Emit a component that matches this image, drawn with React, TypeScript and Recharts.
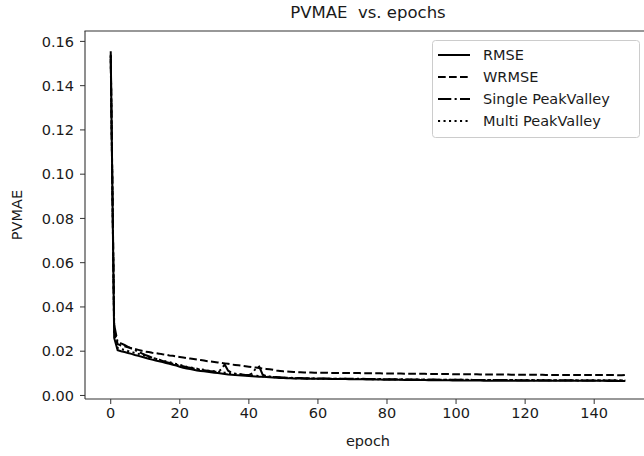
import React from 'react';
import { LineChart, Line, XAxis, YAxis } from 'recharts';

const rmse = [
  0.1555,
  0.026, 0.0205, 0.0200, 0.0196, 0.0192, 0.0188, 0.0183, 0.0179, 0.0175, 0.0170,
  0.0166, 0.0162, 0.0158, 0.0155, 0.0151, 0.0147, 0.0143, 0.0139, 0.0135, 0.0130,
  0.0125, 0.0122, 0.0119, 0.0116, 0.0113, 0.0111, 0.0109, 0.0107, 0.0105, 0.0103,
  0.0101, 0.0099, 0.0097, 0.0095, 0.0094, 0.0092, 0.0091, 0.0090, 0.0089, 0.0088,
  0.0087, 0.0086, 0.0085, 0.0084, 0.0083, 0.0082, 0.0081, 0.0080, 0.0079, 0.0079,
  0.0078, 0.0078, 0.0077, 0.0077, 0.0077, 0.0076, 0.0076, 0.0076, 0.0076, 0.0075,
  0.0075, 0.0075, 0.0075, 0.0074, 0.0074, 0.0074, 0.0074, 0.0074, 0.0073, 0.0073,
  0.0073, 0.0073, 0.0073, 0.0072, 0.0072, 0.0072, 0.0072, 0.0072, 0.0071, 0.0071,
  0.0071, 0.0071, 0.0071, 0.0071, 0.0070, 0.0070, 0.0070, 0.0070, 0.0070, 0.0070,
  0.0070, 0.0069, 0.0069, 0.0069, 0.0069, 0.0069, 0.0069, 0.0069, 0.0068, 0.0068,
  0.0068, 0.0068, 0.0068, 0.0068, 0.0068, 0.0068, 0.0068, 0.0067, 0.0067, 0.0067,
  0.0067, 0.0067, 0.0067, 0.0067, 0.0067, 0.0067, 0.0067, 0.0067, 0.0067, 0.0067,
  0.0067, 0.0067, 0.0067, 0.0066, 0.0066, 0.0066, 0.0066, 0.0066, 0.0066, 0.0066,
  0.0066, 0.0066, 0.0066, 0.0066, 0.0066, 0.0066, 0.0066, 0.0066, 0.0066, 0.0066,
  0.0066, 0.0066, 0.0066, 0.0065, 0.0066, 0.0065, 0.0065, 0.0065, 0.0065,
];

const wrmse = [
  0.1540,
  0.030, 0.0232, 0.0226, 0.0222, 0.0218, 0.0214, 0.0210, 0.0206, 0.0202, 0.0198,
  0.0196, 0.0193, 0.0191, 0.0189, 0.0186, 0.0184, 0.0181, 0.0179, 0.0176, 0.0174,
  0.0172, 0.0169, 0.0167, 0.0165, 0.0162, 0.0160, 0.0158, 0.0155, 0.0153, 0.0151,
  0.0149, 0.0147, 0.0145, 0.0143, 0.0140, 0.0138, 0.0136, 0.0134, 0.0132, 0.0130,
  0.0128, 0.0126, 0.0124, 0.0122, 0.0120, 0.0118, 0.0116, 0.0113, 0.0111, 0.0109,
  0.0108, 0.0107, 0.0106, 0.0105, 0.0105, 0.0104, 0.0104, 0.0104, 0.0103, 0.0103,
  0.0103, 0.0103, 0.0102, 0.0102, 0.0102, 0.0102, 0.0102, 0.0101, 0.0101, 0.0101,
  0.0101, 0.0101, 0.0100, 0.0100, 0.0100, 0.0100, 0.0100, 0.0100, 0.0099, 0.0099,
  0.0099, 0.0099, 0.0099, 0.0099, 0.0098, 0.0098, 0.0098, 0.0098, 0.0098, 0.0098,
  0.0098, 0.0097, 0.0097, 0.0097, 0.0097, 0.0097, 0.0097, 0.0097, 0.0096, 0.0096,
  0.0096, 0.0096, 0.0096, 0.0096, 0.0096, 0.0096, 0.0095, 0.0095, 0.0095, 0.0095,
  0.0095, 0.0095, 0.0095, 0.0095, 0.0095, 0.0094, 0.0094, 0.0094, 0.0094, 0.0094,
  0.0094, 0.0094, 0.0094, 0.0094, 0.0094, 0.0093, 0.0093, 0.0093, 0.0093, 0.0093,
  0.0093, 0.0093, 0.0093, 0.0093, 0.0093, 0.0093, 0.0092, 0.0092, 0.0092, 0.0092,
  0.0092, 0.0092, 0.0092, 0.0092, 0.0092, 0.0092, 0.0091, 0.0091, 0.0093,
];

const singlePV = [
  0.1520,
  0.032, 0.0240, 0.0235, 0.0228, 0.0220, 0.0212, 0.0205, 0.0198, 0.0190, 0.0183,
  0.0177, 0.0171, 0.0166, 0.0161, 0.0156, 0.0151, 0.0147, 0.0143, 0.0139, 0.0135,
  0.0132, 0.0128, 0.0125, 0.0122, 0.0119, 0.0116, 0.0114, 0.0112, 0.0110, 0.0108,
  0.0107, 0.0118, 0.0140, 0.0112, 0.0102, 0.0099, 0.0097, 0.0095, 0.0093, 0.0092,
  0.0100, 0.0122, 0.0130, 0.0094, 0.0088, 0.0086, 0.0084, 0.0083, 0.0082, 0.0081,
  0.0080, 0.0080, 0.0079, 0.0079, 0.0079, 0.0078, 0.0078, 0.0078, 0.0077, 0.0077,
  0.0077, 0.0077, 0.0076, 0.0076, 0.0076, 0.0076, 0.0076, 0.0075, 0.0075, 0.0075,
  0.0075, 0.0075, 0.0075, 0.0074, 0.0074, 0.0074, 0.0074, 0.0074, 0.0074, 0.0073,
  0.0073, 0.0073, 0.0073, 0.0073, 0.0073, 0.0073, 0.0072, 0.0072, 0.0072, 0.0072,
  0.0072, 0.0072, 0.0072, 0.0072, 0.0071, 0.0071, 0.0071, 0.0071, 0.0071, 0.0071,
  0.0071, 0.0071, 0.0071, 0.0070, 0.0070, 0.0070, 0.0070, 0.0070, 0.0070, 0.0070,
  0.0070, 0.0070, 0.0070, 0.0070, 0.0070, 0.0070, 0.0069, 0.0069, 0.0069, 0.0069,
  0.0069, 0.0069, 0.0069, 0.0069, 0.0069, 0.0069, 0.0069, 0.0069, 0.0069, 0.0069,
  0.0069, 0.0069, 0.0069, 0.0069, 0.0068, 0.0068, 0.0068, 0.0068, 0.0068, 0.0068,
  0.0068, 0.0068, 0.0068, 0.0068, 0.0068, 0.0068, 0.0068, 0.0068, 0.0068,
];

const multiPV = [
  0.1535,
  0.028, 0.0215, 0.0210, 0.0206, 0.0201, 0.0197, 0.0192, 0.0188, 0.0183, 0.0179,
  0.0174, 0.0170, 0.0166, 0.0162, 0.0158, 0.0154, 0.0150, 0.0146, 0.0142, 0.0138,
  0.0134, 0.0130, 0.0127, 0.0124, 0.0121, 0.0118, 0.0116, 0.0113, 0.0111, 0.0109,
  0.0107, 0.0105, 0.0103, 0.0101, 0.0099, 0.0097, 0.0096, 0.0094, 0.0093, 0.0091,
  0.0090, 0.0089, 0.0088, 0.0086, 0.0085, 0.0084, 0.0083, 0.0082, 0.0081, 0.0080,
  0.0079, 0.0079, 0.0078, 0.0078, 0.0078, 0.0077, 0.0077, 0.0077, 0.0077, 0.0076,
  0.0076, 0.0076, 0.0076, 0.0076, 0.0075, 0.0075, 0.0075, 0.0075, 0.0075, 0.0074,
  0.0074, 0.0074, 0.0074, 0.0074, 0.0074, 0.0073, 0.0073, 0.0073, 0.0073, 0.0073,
  0.0073, 0.0073, 0.0072, 0.0072, 0.0072, 0.0072, 0.0072, 0.0072, 0.0072, 0.0072,
  0.0071, 0.0071, 0.0071, 0.0071, 0.0071, 0.0071, 0.0071, 0.0071, 0.0071, 0.0071,
  0.0071, 0.0071, 0.0071, 0.0071, 0.0070, 0.0070, 0.0070, 0.0070, 0.0070, 0.0070,
  0.0070, 0.0070, 0.0070, 0.0070, 0.0070, 0.0070, 0.0070, 0.0070, 0.0070, 0.0070,
  0.0070, 0.0070, 0.0070, 0.0070, 0.0070, 0.0069, 0.0069, 0.0069, 0.0069, 0.0069,
  0.0069, 0.0069, 0.0069, 0.0069, 0.0069, 0.0069, 0.0069, 0.0069, 0.0069, 0.0069,
  0.0069, 0.0069, 0.0069, 0.0069, 0.0069, 0.0069, 0.0069, 0.0069, 0.0069,
];

const xTicks = [0, 20, 40, 60, 80, 100, 120, 140];
const yTicks = [0, 0.02, 0.04, 0.06, 0.08, 0.1, 0.12, 0.14, 0.16];
const xDomain = [-7.45, 156.45];
const yDomain = [-0.0016, 0.1647];

const seriesKeys = ['rmse', 'wrmse', 'single', 'multi'];
const seriesNames = ['RMSE', 'WRMSE', 'Single PeakValley', 'Multi PeakValley'];
const seriesDash = ['', '7.7 3.3', '13.3 3.3 2.1 3.3', '2.1 3.4'];

const data = rmse.map((v, i) => ({
  epoch: i,
  rmse: v,
  wrmse: wrmse[i],
  single: singlePV[i],
  multi: multiPV[i],
}));

const FONT = '"DejaVu Sans", sans-serif';
const TXT = '#1a1a1a';

export default function App() {
  return (
    <div
      style={{
        position: 'fixed',
        left: 0,
        top: 0,
        width: 644,
        height: 456,
        overflow: 'hidden',
        background: '#fff',
        fontFamily: FONT,
      }}
    >
      <div style={{ position: 'absolute', left: 0, top: 0 }}>
        <LineChart
          width={680}
          height={456}
          data={data}
          margin={{ top: 31, right: 29, bottom: 0, left: 0 }}
        >
          <XAxis
            dataKey="epoch"
            type="number"
            domain={xDomain}
            ticks={xTicks}
            allowDataOverflow
            height={57}
            tickSize={5}
            tickMargin={4}
            tick={{ fill: TXT, fontSize: 14.5, fontFamily: FONT }}
            stroke="#333"
            axisLine={{ stroke: '#333', strokeWidth: 1.1 }}
            label={{ value: 'epoch', position: 'insideBottom', offset: 10, fill: TXT, fontSize: 14.5, fontFamily: FONT }}
          />
          <YAxis
            type="number"
            domain={yDomain}
            ticks={yTicks}
            allowDataOverflow
            width={85}
            tickSize={5}
            tickMargin={6}
            tickFormatter={(v: number) => v.toFixed(2)}
            tick={{ fill: TXT, fontSize: 14.5, fontFamily: FONT }}
            stroke="#333"
            axisLine={{ stroke: '#333', strokeWidth: 1.1 }}
            label={{ value: 'PVMAE', angle: -90, position: 'insideLeft', offset: 17, fill: TXT, fontSize: 14.5, fontFamily: FONT, style: { textAnchor: 'middle' } }}
          />
          {seriesKeys.map((k, i) => (
            <Line
              key={k}
              dataKey={k}
              name={seriesNames[i]}
              stroke="#000"
              strokeWidth={2}
              strokeDasharray={seriesDash[i] || undefined}
              dot={false}
              activeDot={false}
              type="linear"
              isAnimationActive={false}
            />
          ))}
        </LineChart>
      </div>
      <svg
        width={644}
        height={40}
        style={{ position: 'absolute', left: 0, top: 0, pointerEvents: 'none' }}
      >
        <line x1={84.5} x2={644} y1={31} y2={31} stroke="#333" strokeWidth={1.2} />
        <text
          x={368}
          y={12}
          dy="0.35em"
          textAnchor="middle"
          fontSize={16.5}
          fill={TXT}
          fontFamily={FONT}
          style={{ whiteSpace: 'pre' }}
        >
          {'PVMAE  vs. epochs'}
        </text>
      </svg>
      <svg
        width={212}
        height={100}
        style={{ position: 'absolute', left: 432, top: 40 }}
      >
        <rect x={0.5} y={0.5} width={207} height={97} rx={3} fill="#fff" fillOpacity={0.8} stroke="#ccc" />
        {seriesNames.map((n, i) => (
          <g key={n}>
            <line
              x1={6}
              x2={38}
              y1={15 + i * 22}
              y2={15 + i * 22}
              stroke="#000"
              strokeWidth={2}
              strokeDasharray={seriesDash[i] || undefined}
            />
            <text x={51} y={15 + i * 22} dy="0.35em" fontSize={14.5} fill={TXT} fontFamily={FONT}>
              {n}
            </text>
          </g>
        ))}
      </svg>
    </div>
  );
}
